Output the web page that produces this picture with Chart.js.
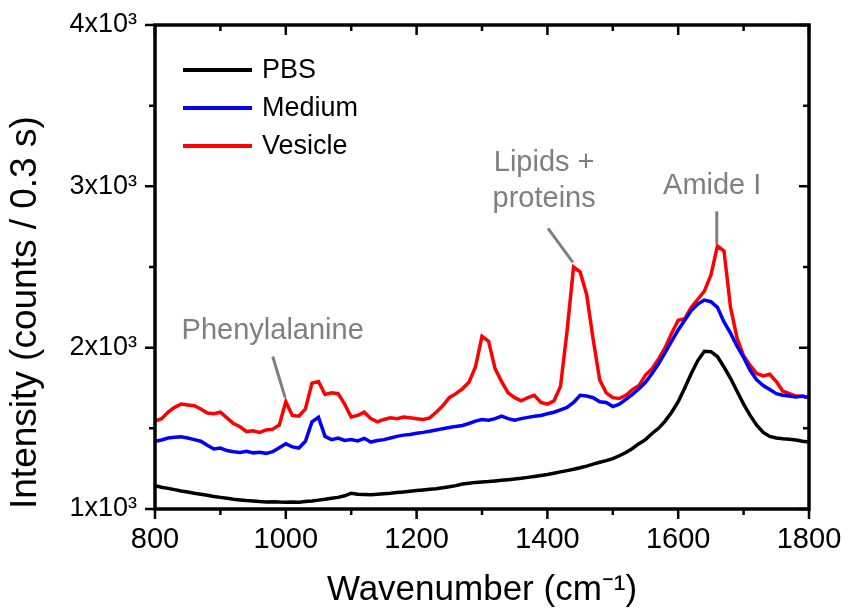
<!DOCTYPE html>
<html>
<head>
<meta charset="utf-8">
<script src="https://cdn.jsdelivr.net/npm/chart.js@4"></script>
<style>
  html, body { margin: 0; padding: 0; background: #fff; }
  canvas { display: block; }
</style>
</head>
<body>
<canvas id="myChart" width="848" height="613"></canvas>
<script>
// wavenumber (cm-1), one point every 10
const wavenumber = [];
for (let w = 800; w <= 1800; w += 10) wavenumber.push(w);

const pbs = [
    1145, 1135, 1128, 1120, 1112, 1105, 1098, 1092, 1085, 1078,
    1072, 1066, 1060, 1056, 1052, 1050, 1046, 1044, 1045, 1043,
    1042, 1044, 1042, 1046, 1050, 1055, 1060, 1066, 1072, 1082,
    1098, 1092, 1090, 1088, 1092, 1095, 1098, 1102, 1106, 1110,
    1114, 1118, 1122, 1126, 1132, 1138, 1145, 1155, 1160, 1165,
    1168, 1170, 1174, 1178, 1182, 1186, 1190, 1196, 1202, 1208,
    1214, 1222, 1230, 1238, 1246, 1256, 1266, 1278, 1290, 1300,
    1312, 1330, 1350, 1375, 1405, 1430, 1468, 1500, 1545, 1600,
    1665, 1750, 1840, 1920, 1978, 1975, 1945, 1880, 1810, 1730,
    1650, 1580, 1520, 1475, 1450, 1440, 1435, 1432, 1428, 1420,
    1415
];

const medium = [
    1420, 1428, 1440, 1445, 1448, 1440, 1430, 1420, 1395, 1372,
    1378, 1362, 1355, 1350, 1358, 1348, 1352, 1345, 1355, 1380,
    1405, 1385, 1378, 1420, 1540, 1568, 1450, 1430, 1440, 1425,
    1430, 1422, 1438, 1415, 1425, 1430, 1440, 1450, 1458, 1462,
    1470, 1475, 1482, 1490, 1498, 1505, 1512, 1518, 1530, 1545,
    1555, 1550, 1560, 1575, 1560, 1550, 1560, 1568, 1575, 1580,
    1590, 1600, 1615, 1630, 1660, 1705, 1700, 1690, 1665, 1660,
    1635, 1650, 1680, 1710, 1745, 1785, 1840, 1900, 1970, 2040,
    2110, 2170, 2230, 2270, 2295, 2285, 2250, 2160, 2090, 2010,
    1940, 1860, 1800, 1765, 1740, 1715, 1705, 1700, 1695, 1700,
    1690
];

const vesicle = [
    1545, 1560, 1600, 1630, 1650, 1645, 1640, 1620, 1595, 1590,
    1600, 1565, 1530, 1510, 1480, 1485, 1475, 1490, 1495, 1520,
    1665, 1580, 1575, 1620, 1780, 1790, 1710, 1720, 1715, 1650,
    1570, 1580, 1600, 1560, 1540, 1555, 1565, 1560, 1570, 1565,
    1560, 1555, 1565, 1600, 1640, 1690, 1715, 1745, 1785, 1880,
    2070, 2040, 1870, 1790, 1720, 1690, 1670, 1690, 1705, 1660,
    1650, 1670, 1760, 2100, 2500, 2470, 2330, 2050, 1800, 1720,
    1690, 1685, 1705, 1740, 1765, 1830, 1870, 1930, 2000, 2090,
    2170, 2180, 2250, 2300, 2350, 2450, 2630, 2600, 2250, 2060,
    1950, 1890, 1840, 1825, 1835, 1790, 1730, 1715, 1700, 1698,
    1690
];

const seriesLabels = ['PBS', 'Medium', 'Vesicle'];
const seriesColors = ['#000000', '#0000ff', '#ff0000'];
const xTicks = [800, 1000, 1200, 1400, 1600, 1800];
const yTicks = [1000, 2000, 3000, 4000];

// peak labels, anchored in data units
const peakNotes = [
    { lines: ['Phenylalanine'], x: 980, y: 2056, from: [980, 1945], to: [999, 1690] },
    { lines: ['Lipids +', 'proteins'], x: 1395, y: 3093, from: [1401, 2739], to: [1439, 2528] },
    { lines: ['Amide I'], x: 1652, y: 2950, from: [1659, 2845], to: [1659, 2640] }
];

const FONT = "'Liberation Sans', Arial, sans-serif";

function toPoints(values) {
    return values.map((v, i) => ({ x: wavenumber[i], y: v }));
}

// box, tick marks, legend and peak labels
const framePlugin = {
    id: 'frame',
    afterDatasetsDraw(chart) {
        const ctx = chart.ctx;
        const area = chart.chartArea;
        const xs = chart.scales.x;
        const ys = chart.scales.y;
        ctx.save();
        ctx.strokeStyle = '#000';
        ctx.lineCap = 'butt';

        // ticks
        ctx.lineWidth = 2.5;
        for (let w = 800; w <= 1800; w += 100) {
            const px = xs.getPixelForValue(w);
            const len = w % 200 === 0 ? 10 : 6;
            ctx.beginPath();
            ctx.moveTo(px, area.bottom);
            ctx.lineTo(px, area.bottom + len);
            ctx.moveTo(px, area.top);
            ctx.lineTo(px, area.top + len);
            ctx.stroke();
        }
        for (let v = 1000; v <= 4000; v += 500) {
            const py = ys.getPixelForValue(v);
            const len = v % 1000 === 0 ? 10 : 6;
            ctx.beginPath();
            ctx.moveTo(area.left, py);
            ctx.lineTo(area.left - len, py);
            ctx.moveTo(area.right, py);
            ctx.lineTo(area.right - len, py);
            ctx.stroke();
        }

        // box
        ctx.lineWidth = 3.5;
        ctx.lineJoin = 'miter';
        ctx.strokeRect(area.left, area.top, area.right - area.left, area.bottom - area.top);

        // legend
        ctx.font = '27px ' + FONT;
        ctx.textBaseline = 'middle';
        ctx.textAlign = 'left';
        chart.data.datasets.forEach((ds, i) => {
            const y = area.top + 45 + i * 38;
            ctx.strokeStyle = ds.borderColor;
            ctx.lineWidth = 4;
            ctx.beginPath();
            ctx.moveTo(area.left + 28, y);
            ctx.lineTo(area.left + 97, y);
            ctx.stroke();
            ctx.fillStyle = '#000';
            ctx.fillText(ds.label, area.left + 107, y + 1);
        });

        // peak labels
        ctx.fillStyle = '#7f7f7f';
        ctx.strokeStyle = '#7f7f7f';
        ctx.font = '29px ' + FONT;
        ctx.textAlign = 'center';
        ctx.textBaseline = 'alphabetic';
        peakNotes.forEach(n => {
            const px = xs.getPixelForValue(n.x);
            const py = ys.getPixelForValue(n.y);
            n.lines.forEach((t, k) => ctx.fillText(t, px, py + k * 36));
            ctx.lineWidth = 3;
            ctx.beginPath();
            ctx.moveTo(xs.getPixelForValue(n.from[0]), ys.getPixelForValue(n.from[1]));
            ctx.lineTo(xs.getPixelForValue(n.to[0]), ys.getPixelForValue(n.to[1]));
            ctx.stroke();
        });
        ctx.restore();
    }
};

const ctx = document.getElementById('myChart').getContext('2d');
const chart = new Chart(ctx, { //eslint-disable-line
    type: 'line',
    data: {
        datasets: [pbs, medium, vesicle].map((vals, i) => ({
            label: seriesLabels[i],
            data: toPoints(vals),
            borderColor: seriesColors[i],
            backgroundColor: seriesColors[i],
            borderWidth: 3.5,
            pointRadius: 0,
            tension: 0
        }))
    },
    options: {
        responsive: false,
        animation: false,
        devicePixelRatio: 1,
        layout: { padding: { top: 25, right: 39, left: 0, bottom: 0 } },
        plugins: {
            legend: { display: false },
            tooltip: { enabled: false }
        },
        scales: {
            x: {
                type: 'linear',
                min: 800,
                max: 1800,
                afterBuildTicks: s => { s.ticks = xTicks.map(v => ({ value: v })); },
                afterFit: s => {
                    s.height = 104;
                    s.paddingLeft = 0;
                    s.paddingRight = 0;
                },
                grid: { display: false, drawTicks: false },
                border: { display: false },
                ticks: {
                    padding: 14,
                    color: '#000',
                    font: { family: FONT, size: 29 },
                    maxRotation: 0,
                    callback: v => String(v)
                },
                title: {
                    display: true,
                    text: 'Wavenumber (cm\u207B\u00B9)',
                    color: '#000',
                    font: { family: FONT, size: 35 },
                    padding: { top: 0, bottom: 2 }
                }
            },
            y: {
                min: 1000,
                max: 4000,
                afterBuildTicks: s => { s.ticks = yTicks.map(v => ({ value: v })); },
                afterFit: s => {
                    s.width = 155;
                    s.paddingTop = 0;
                    s.paddingBottom = 0;
                },
                grid: { display: false, drawTicks: false },
                border: { display: false },
                ticks: {
                    padding: 18,
                    color: '#000',
                    font: { family: FONT, size: 27 },
                    callback: v => (v / 1000) + 'x10\u00B3'
                },
                title: {
                    display: true,
                    text: 'Intensity (counts / 0.3 s)',
                    align: 'start',
                    color: '#000',
                    font: { family: FONT, size: 37 },
                    padding: { top: 4, bottom: 0 }
                }
            }
        }
    },
    plugins: [framePlugin]
});
</script>
</body>
</html>
